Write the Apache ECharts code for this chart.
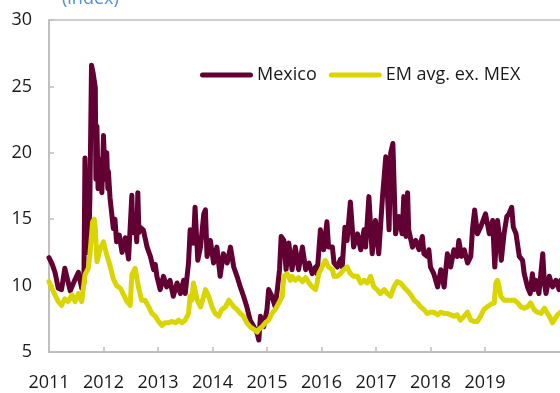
<!DOCTYPE html>
<html>
<head>
<meta charset="utf-8">
<script src="https://cdn.jsdelivr.net/npm/echarts@6/dist/echarts.min.js"></script>
<style>
  html, body { margin: 0; padding: 0; background: #fff; }
  #chart { width: 560px; height: 393px; }
</style>
</head>
<body>
<div id="chart"></div>
<script>
// Implied volatility index: Mexico vs EM average excluding Mexico
// Time in decimal years
var mexicoT = [
  2011.00, 2011.06, 2011.11, 2011.17, 2011.23, 2011.29, 2011.39, 2011.46, 2011.54, 2011.60,
  2011.64, 2011.66, 2011.70, 2011.73, 2011.75, 2011.78, 2011.81, 2011.85, 2011.86, 2011.88,
  2011.90, 2011.94, 2011.97, 2012.00, 2012.03, 2012.06, 2012.08, 2012.09, 2012.12, 2012.18,
  2012.21, 2012.24, 2012.29, 2012.34, 2012.40, 2012.46, 2012.52, 2012.54, 2012.58, 2012.61,
  2012.63, 2012.65, 2012.67, 2012.73, 2012.80, 2012.86, 2012.92, 2012.95, 2012.98, 2013.04,
  2013.10, 2013.16, 2013.22, 2013.28, 2013.35, 2013.41, 2013.47, 2013.50, 2013.56, 2013.59,
  2013.65, 2013.68, 2013.73, 2013.78, 2013.84, 2013.87, 2013.90, 2013.96, 2014.02, 2014.08,
  2014.14, 2014.20, 2014.27, 2014.33, 2014.39, 2014.45, 2014.51, 2014.57, 2014.63, 2014.69,
  2014.76, 2014.82, 2014.85, 2014.88, 2014.94, 2015.00, 2015.03, 2015.09, 2015.15, 2015.19,
  2015.23, 2015.26, 2015.31, 2015.35, 2015.40, 2015.46, 2015.52, 2015.58, 2015.65, 2015.71,
  2015.77, 2015.83, 2015.89, 2015.92, 2015.98, 2016.04, 2016.10, 2016.13, 2016.20, 2016.23,
  2016.29, 2016.35, 2016.38, 2016.43, 2016.47, 2016.53, 2016.59, 2016.66, 2016.72, 2016.78,
  2016.81, 2016.87, 2016.93, 2016.99, 2017.05, 2017.12, 2017.18, 2017.24, 2017.27, 2017.31,
  2017.36, 2017.42, 2017.48, 2017.51, 2017.55, 2017.58, 2017.60, 2017.67, 2017.73, 2017.79,
  2017.85, 2017.88, 2017.94, 2017.97, 2018.00, 2018.06, 2018.13, 2018.19, 2018.25, 2018.28,
  2018.31, 2018.37, 2018.43, 2018.49, 2018.52, 2018.57, 2018.62, 2018.68, 2018.74, 2018.77,
  2018.81, 2018.86, 2018.92, 2018.95, 2019.01, 2019.08, 2019.14, 2019.18, 2019.23, 2019.26,
  2019.30, 2019.35, 2019.40, 2019.44, 2019.49, 2019.52, 2019.57, 2019.63, 2019.69, 2019.72,
  2019.78, 2019.83, 2019.87, 2019.90, 2019.93, 2019.99, 2020.06, 2020.09, 2020.12, 2020.18,
  2020.24, 2020.30, 2020.36, 2020.39
];
var mexicoV = [
  12.1, 11.6, 11.0, 9.8, 9.7, 11.3, 9.6, 10.3, 11.0, 9.8,
  10.2, 19.6, 12.5, 13.0, 16.5, 26.6, 26.0, 24.9, 18.0, 22.0,
  17.3, 19.5, 17.0, 21.3, 18.0, 20.0, 17.3, 18.6, 16.6, 14.3,
  15.0, 13.3, 13.8, 12.5, 13.6, 12.0, 16.8, 14.0, 14.8, 13.3,
  17.0, 14.0, 14.4, 14.2, 12.9, 12.2, 11.2, 11.6, 10.7, 9.7,
  10.7, 9.9, 10.4, 9.2, 10.2, 9.4, 10.4, 9.4, 11.7, 14.2,
  13.2, 15.9, 11.9, 12.9, 15.4, 15.7, 12.2, 13.4, 11.7, 12.9,
  10.7, 12.4, 11.7, 12.9, 11.4, 10.7, 9.9, 9.2, 8.4, 7.4,
  6.9, 6.4, 5.9, 7.7, 6.9, 8.2, 9.7, 9.2, 8.4, 9.7,
  11.2, 13.7, 13.4, 11.2, 13.2, 11.2, 12.9, 11.2, 12.9, 11.2,
  11.7, 10.9, 11.4, 10.9, 14.2, 12.7, 14.8, 12.9, 12.9, 11.7,
  11.4, 12.0, 11.4, 14.4, 13.4, 16.3, 12.9, 13.9, 12.7, 14.2,
  12.9, 16.7, 12.4, 14.9, 12.4, 16.7, 19.7, 14.2, 20.0, 20.7,
  13.9, 15.2, 13.9, 16.7, 13.7, 17.0, 14.2, 12.9, 13.4, 12.7,
  13.7, 12.4, 12.2, 12.7, 11.4, 10.9, 9.9, 11.2, 9.9, 9.9,
  12.4, 11.4, 12.7, 12.2, 13.4, 12.2, 12.7, 11.7, 12.2, 14.2,
  15.7, 13.9, 14.4, 14.4, 15.4, 13.9, 14.9, 11.4, 14.9, 13.9,
  11.9, 13.9, 15.2, 15.4, 15.9, 14.4, 13.9, 12.2, 11.9, 10.9,
  9.9, 9.4, 10.9, 9.7, 10.4, 9.4, 12.4, 10.2, 9.4, 10.7,
  9.9, 10.4, 9.7, 10.4
];

var emT = [
  2011.00, 2011.05, 2011.11, 2011.17, 2011.23, 2011.29, 2011.35, 2011.42, 2011.48, 2011.54,
  2011.60, 2011.66, 2011.72, 2011.75, 2011.80, 2011.83, 2011.85, 2011.88, 2011.94, 2012.00,
  2012.06, 2012.12, 2012.18, 2012.24, 2012.31, 2012.37, 2012.43, 2012.49, 2012.52, 2012.58,
  2012.64, 2012.70, 2012.76, 2012.83, 2012.89, 2012.95, 2013.01, 2013.07, 2013.13, 2013.19,
  2013.26, 2013.32, 2013.38, 2013.44, 2013.50, 2013.56, 2013.59, 2013.62, 2013.65, 2013.72,
  2013.78, 2013.84, 2013.87, 2013.93, 2013.99, 2014.05, 2014.11, 2014.17, 2014.24, 2014.30,
  2014.33, 2014.39, 2014.45, 2014.51, 2014.57, 2014.63, 2014.69, 2014.76, 2014.82, 2014.85,
  2014.91, 2014.97, 2015.03, 2015.09, 2015.15, 2015.22, 2015.28, 2015.31, 2015.37, 2015.43,
  2015.46, 2015.52, 2015.58, 2015.65, 2015.71, 2015.77, 2015.83, 2015.89, 2015.92, 2015.95,
  2016.01, 2016.07, 2016.13, 2016.20, 2016.23, 2016.29, 2016.35, 2016.41, 2016.47, 2016.53,
  2016.59, 2016.66, 2016.72, 2016.78, 2016.84, 2016.90, 2016.96, 2017.02, 2017.08, 2017.15,
  2017.21, 2017.27, 2017.33, 2017.39, 2017.45, 2017.51, 2017.58, 2017.64, 2017.70, 2017.76,
  2017.82, 2017.88, 2017.94, 2018.00, 2018.06, 2018.13, 2018.19, 2018.25, 2018.31, 2018.37,
  2018.43, 2018.49, 2018.55, 2018.62, 2018.68, 2018.74, 2018.80, 2018.86, 2018.92, 2018.98,
  2019.04, 2019.11, 2019.17, 2019.20, 2019.23, 2019.26, 2019.29, 2019.35, 2019.41, 2019.47,
  2019.54, 2019.60, 2019.66, 2019.72, 2019.78, 2019.84, 2019.90, 2019.96, 2020.03, 2020.09,
  2020.15, 2020.18, 2020.24, 2020.27, 2020.33, 2020.36, 2020.39
];
var emV = [
  10.3, 9.8, 9.3, 8.8, 8.5, 9.0, 8.8, 9.3, 8.8, 9.4,
  8.8, 10.8, 11.3, 12.3, 14.8, 15.0, 14.3, 11.8, 12.8, 13.3,
  12.3, 11.5, 10.5, 10.0, 9.8, 9.3, 8.8, 8.5, 10.8, 11.3,
  9.9, 8.9, 8.9, 8.4, 7.9, 7.7, 7.3, 7.0, 7.2, 7.2,
  7.3, 7.2, 7.4, 7.2, 7.4, 7.9, 9.2, 8.9, 10.2, 8.9,
  8.4, 9.2, 9.7, 9.2, 8.4, 7.9, 7.7, 8.2, 8.4, 8.9,
  8.9, 8.4, 8.2, 7.9, 7.7, 7.2, 6.9, 6.7, 6.5, 6.7,
  6.9, 7.2, 7.4, 7.9, 8.2, 8.7, 9.2, 10.7, 10.9, 10.4,
  10.7, 10.4, 10.6, 10.3, 10.6, 10.2, 9.9, 9.7, 10.2, 10.9,
  11.4, 11.9, 11.4, 11.2, 10.7, 10.7, 10.9, 11.2, 11.4, 10.9,
  10.7, 10.7, 10.2, 10.4, 10.2, 10.7, 9.9, 9.7, 9.4, 9.7,
  9.4, 9.2, 9.9, 10.3, 10.2, 9.9, 9.6, 9.3, 8.9, 8.7,
  8.4, 8.2, 7.9, 8.0, 8.0, 7.8, 8.0, 7.9, 7.9, 7.8,
  7.7, 7.8, 7.4, 7.7, 8.0, 7.4, 7.3, 7.3, 7.7, 8.2,
  8.4, 8.6, 8.7, 10.2, 10.4, 9.9, 9.2, 8.9, 8.9, 8.9,
  8.9, 8.7, 8.4, 8.3, 8.4, 8.7, 8.2, 8.0, 7.9, 8.3,
  7.9, 7.7, 7.2, 7.4, 7.8, 7.9, 8.0
];

var yearTicks = [2011, 2012, 2013, 2014, 2015, 2016, 2017, 2018, 2019];
var seriesNames = ['Mexico', 'EM avg. ex. MEX'];
var seriesColors = ['#620033', '#dad400'];

function zip(t, v) {
  var out = [];
  for (var i = 0; i < t.length; i++) out.push([t[i], v[i]]);
  return out;
}

var FONT = '"Open Sans", "Noto Sans", sans-serif';
var AXIS_GREY = '#bfbfbf';
var legendIcon = 'path://M2.5,0 H50.5 A2.5,2.5 0 0 1 50.5,5 H2.5 A2.5,2.5 0 0 1 2.5,0 Z';

var chart = echarts.init(document.getElementById('chart'), null, { renderer: 'canvas' });
chart.setOption({
  animation: false,
  backgroundColor: '#ffffff',
  textStyle: { fontFamily: FONT },
  title: {
    text: '(index)',
    left: 57,
    top: -15,
    textStyle: { fontFamily: FONT, fontSize: 18, fontWeight: 'normal', color: '#4f8fd0' }
  },
  legend: {
    left: 195,
    top: 61,
    itemWidth: 53,
    itemHeight: 5,
    itemGap: 12,
    icon: legendIcon,
    data: seriesNames,
    textStyle: { fontFamily: FONT, fontSize: 18, color: '#1a1a1a', padding: [0, 0, 0, -1] }
  },
  grid: {
    left: 49,
    right: -4,
    top: 20,
    bottom: 41,
    show: true,
    borderColor: AXIS_GREY,
    borderWidth: 1.5,
    containLabel: false,
    outerBoundsMode: 'none'
  },
  xAxis: {
    type: 'value',
    min: 2011,
    max: 2020.45,
    splitLine: { show: false },
    axisLine: { show: true, lineStyle: { color: AXIS_GREY, width: 2 } },
    axisTick: { show: true, inside: true, length: 5, customValues: yearTicks, lineStyle: { color: AXIS_GREY, width: 1.5 } },
    axisLabel: {
      customValues: yearTicks,
      margin: 22,
      fontSize: 18,
      fontFamily: FONT,
      color: '#1a1a1a',
      formatter: function (v) { return String(Math.round(v)); }
    }
  },
  yAxis: {
    type: 'value',
    min: 5,
    max: 30,
    interval: 5,
    splitLine: { show: false },
    axisLine: { show: true, lineStyle: { color: AXIS_GREY, width: 2 } },
    axisTick: { show: true, inside: true, length: 5, lineStyle: { color: AXIS_GREY, width: 1.5 } },
    axisLabel: { margin: 17, fontSize: 18, fontFamily: FONT, color: '#1a1a1a' }
  },
  series: [
    {
      name: seriesNames[0],
      type: 'line',
      data: zip(mexicoT, mexicoV),
      showSymbol: false,
      symbol: 'none',
      color: seriesColors[0],
      lineStyle: { color: seriesColors[0], width: 5, cap: 'round', join: 'round' }
    },
    {
      name: seriesNames[1],
      type: 'line',
      data: zip(emT, emV),
      showSymbol: false,
      symbol: 'none',
      color: seriesColors[1],
      lineStyle: { color: seriesColors[1], width: 5, cap: 'round', join: 'round' }
    }
  ]
});
</script>
</body>
</html>
